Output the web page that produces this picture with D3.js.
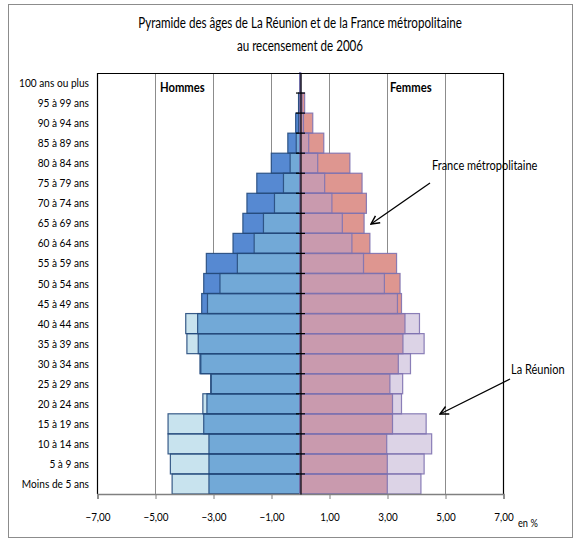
<!DOCTYPE html>
<html>
<head>
<meta charset="utf-8">
<script src="https://cdn.jsdelivr.net/npm/d3@7"></script>
<style>
  html, body { margin: 0; padding: 0; background: #fff; }
  svg { display: block; }
  text { font-family: Lato, "Open Sans", sans-serif; fill: #000; }
</style>
</head>
<body>
<svg id="chart" width="577" height="542"></svg>
<script>
// Age groups, oldest at the top
const ageGroups = [
  "100 ans ou plus", "95 à 99 ans", "90 à 94 ans", "85 à 89 ans", "80 à 84 ans",
  "75 à 79 ans", "70 à 74 ans", "65 à 69 ans", "60 à 64 ans", "55 à 59 ans",
  "50 à 54 ans", "45 à 49 ans", "40 à 44 ans", "35 à 39 ans", "30 à 34 ans",
  "25 à 29 ans", "20 à 24 ans", "15 à 19 ans", "10 à 14 ans", "5 à 9 ans",
  "Moins de 5 ans"
];

// Share of total population (%) per age group
const hommesFrance = [0.01, 0.05, 0.15, 0.42, 0.99, 1.49, 1.83, 1.97, 2.31, 3.23,
                      3.32, 3.39, 3.53, 3.51, 3.45, 3.08, 3.21, 3.32, 3.14, 3.14, 3.14];
const hommesReunion = [0.00, 0.03, 0.05, 0.13, 0.34, 0.57, 0.88, 1.26, 1.58, 2.16,
                       2.76, 3.19, 3.94, 3.90, 3.42, 3.06, 3.35, 4.55, 4.55, 4.47, 4.41];
const femmesFrance = [0.03, 0.16, 0.44, 0.82, 1.72, 2.14, 2.29, 2.21, 2.41, 3.33,
                      3.45, 3.50, 3.62, 3.55, 3.39, 3.10, 3.19, 3.19, 2.99, 3.01, 3.01];
const femmesReunion = [0.01, 0.07, 0.12, 0.30, 0.61, 0.85, 1.10, 1.46, 1.79, 2.19,
                       2.91, 3.36, 4.12, 4.28, 3.81, 3.54, 3.50, 4.35, 4.54, 4.28, 4.17];

const xTicks = [-7, -5, -3, -1, 1, 3, 5, 7];
const titleLines = ["Pyramide des âges de La Réunion et de la France métropolitaine",
                    "au recensement de 2006"];

const svg = d3.select("#chart");
const plot = { left: 97, right: 503, top: 73, bottom: 494 };

const x = d3.scaleLinear().domain([-7, 7]).range([plot.left, plot.right]);
const y = d3.scaleBand().domain(ageGroups).range([plot.top, plot.bottom]).padding(0);

// Place a text at (tx, ty) with a horizontally condensed face
const narrowText = (parent, tx, ty, sx, label) => parent.append("text")
  .attr("transform", `translate(${tx},${ty}) scale(${sx},1)`)
  .text(label);

// Outer chart frame
svg.append("rect")
  .attr("x", 8.5).attr("y", 4.5).attr("width", 564).attr("height", 533)
  .attr("fill", "#fff").attr("stroke", "#8c8c8c").attr("stroke-width", 1);

// Title
titleLines.forEach((line, i) => {
  narrowText(svg, 300, 28 + i * 23, 0.8, line)
    .attr("text-anchor", "middle").attr("font-size", 14.5);
});

// Plot background and vertical gridlines
svg.append("rect")
  .attr("x", plot.left).attr("y", plot.top)
  .attr("width", plot.right - plot.left).attr("height", plot.bottom - plot.top)
  .attr("fill", "#fff");

svg.append("g").selectAll("line").data(xTicks.filter(t => Math.abs(t) < 7)).join("line")
  .attr("x1", d => x(d) + 0.5).attr("x2", d => x(d) + 0.5)
  .attr("y1", plot.top).attr("y2", plot.bottom)
  .attr("stroke", "#8c8c8c").attr("stroke-width", 1);

// Bars: each side shows both populations overlapped;
// the common part gets its own blended tone.
const sides = [
  { france: hommesFrance, reunion: hommesReunion, sign: -1,
    franceFill: "#5689d2", reunionFill: "#c8e3ee", overlapFill: "#72a9d7", stroke: "#254a7c" },
  { france: femmesFrance, reunion: femmesReunion, sign: 1,
    franceFill: "#de9690", reunionFill: "#dcd3e6", overlapFill: "#c99aae", stroke: "#7e72b0" }
];

const barRect = (sel, sign, valueOf) => sel
  .attr("x", d => sign < 0 ? x(-valueOf(d)) : x(0))
  .attr("width", d => Math.abs(x(valueOf(d)) - x(0)))
  .attr("y", d => y(d.age))
  .attr("height", y.bandwidth());

sides.forEach(s => {
  const rows = ageGroups.map((age, i) => ({ age, fr: s.france[i], re: s.reunion[i] }));
  const g = svg.append("g");
  barRect(g.append("g").selectAll("rect").data(rows).join("rect"), s.sign, d => d.fr)
    .attr("fill", s.franceFill);
  barRect(g.append("g").selectAll("rect").data(rows).join("rect"), s.sign, d => d.re)
    .attr("fill", s.reunionFill);
  barRect(g.append("g").selectAll("rect").data(rows).join("rect"), s.sign, d => Math.min(d.fr, d.re))
    .attr("fill", s.overlapFill);
  // outlines of both series on top
  [d => d.fr, d => d.re].forEach(v => {
    barRect(g.append("g").selectAll("rect").data(rows.filter(r => v(r) > 0)).join("rect"), s.sign, v)
      .attr("fill", "none").attr("stroke", s.stroke).attr("stroke-width", 1.2)
      .attr("stroke-opacity", 0.9);
  });
});

// Plot frame (top, left, right) and bottom value axis
svg.append("path")
  .attr("d", `M${plot.left + 0.5},${plot.bottom}V${plot.top + 0.5}H${plot.right + 0.5}V${plot.bottom}`)
  .attr("fill", "none").attr("stroke", "#000").attr("stroke-width", 1.2);

const xAxis = svg.append("g")
  .attr("transform", `translate(0.5,${plot.bottom})`)
  .call(d3.axisBottom(x).tickValues(xTicks).tickSize(5).tickPadding(14)
        .tickFormat(d => d3.format(".2f")(d).replace(".", ",")));
xAxis.select(".domain").attr("stroke", "#808080").attr("stroke-width", 1.5);
xAxis.selectAll(".tick line").attr("stroke", "#808080");
xAxis.selectAll(".tick text").attr("font-size", 11.5)
  .attr("font-family", "Lato, \"Open Sans\", sans-serif")
  .attr("transform", "scale(0.86,1)");

narrowText(svg, 518, 527, 0.88, "en %").attr("font-size", 10.5);

// Central category axis with a tick at each band boundary
const yAxis = svg.append("g").attr("transform", `translate(${x(0) + 0.5},0)`)
  .call(d3.axisLeft(y).tickSize(0).tickFormat(""));
yAxis.select(".domain").attr("stroke", "#000").attr("stroke-width", 1.2);
svg.append("g").selectAll("line").data(ageGroups.slice(1)).join("line")
  .attr("x1", x(0) - 4).attr("x2", x(0) + 5)
  .attr("y1", d => y(d)).attr("y2", d => y(d))
  .attr("stroke", "#000").attr("stroke-width", 1.2);

// Age group labels to the left of the plot
const labels = svg.append("g");
ageGroups.forEach(a => {
  narrowText(labels, 89, y(a) + y.bandwidth() / 2, 0.88, a)
    .attr("dy", "0.35em").attr("text-anchor", "end").attr("font-size", 11.5);
});

// Side headings
narrowText(svg, 160, 92, 0.9, "Hommes").attr("font-size", 12.5).attr("font-weight", "bold");
narrowText(svg, 390, 92, 0.9, "Femmes").attr("font-size", 12.5).attr("font-weight", "bold");

// Annotations with arrows
const defs = svg.append("defs");
defs.append("marker").attr("id", "arrow").attr("viewBox", "0 0 10 10")
  .attr("refX", 9).attr("refY", 5).attr("markerWidth", 8).attr("markerHeight", 8)
  .attr("orient", "auto-start-reverse")
  .append("path").attr("d", "M1,1L9,5L1,9").attr("fill", "none").attr("stroke", "#000").attr("stroke-width", 1.4);

const notes = [
  { label: "France métropolitaine", tx: 432, ty: 170, x1: 430, y1: 183, x2: 371, y2: 224 },
  { label: "La Réunion", tx: 511, ty: 374, x1: 510, y1: 379, x2: 440, y2: 414 }
];
notes.forEach(n => {
  narrowText(svg, n.tx, n.ty, 0.88, n.label).attr("font-size", 12.5);
  svg.append("line").attr("x1", n.x1).attr("y1", n.y1).attr("x2", n.x2).attr("y2", n.y2)
    .attr("stroke", "#000").attr("stroke-width", 1.3).attr("marker-end", "url(#arrow)");
});
</script>
</body>
</html>
